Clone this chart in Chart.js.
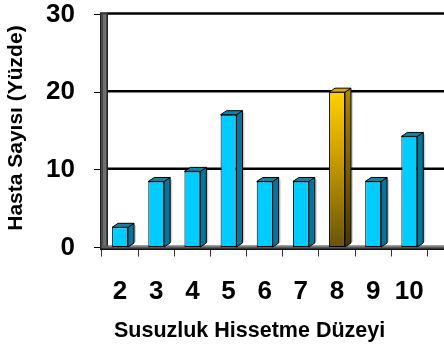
<!DOCTYPE html>
<html>
<head>
<meta charset="utf-8">
<title>Susuzluk Hissetme Düzeyi</title>
<script src="https://cdn.jsdelivr.net/npm/chart.js@4.4.0/dist/chart.umd.min.js"></script>
<style>
  html, body { margin: 0; padding: 0; background: #ffffff; }
  canvas { display: block; }
</style>
</head>
<body>
<canvas id="chart" width="444" height="347"></canvas>
<script>
// Thirst level categories and the share of patients (percent) in each
const categories = ['2', '3', '4', '5', '6', '7', '8', '9', '10'];
const patientPercent = [2.6, 8.5, 9.8, 17.1, 8.5, 8.5, 20.0, 8.5, 14.3];
const yTickValues = [0, 10, 20, 30];
const highlightCategory = '8';
const yAxisTitle = 'Hasta Sayısı (Yüzde)';
const xAxisTitle = 'Susuzluk Hissetme Düzeyi';

const TICK_FONT = "'Liberation Sans', Arial, sans-serif";
const TITLE_FONT = "'Liberation Sans', Arial, sans-serif";

const CYAN_FRONT = '#00ccff';
const CYAN_TOP = '#0a86ab';
const CYAN_SIDE = '#06759a';

// depth of the pseudo-3D extrusion
const BAR_DX = 6, BAR_DY = -4;
const WALL_DX = 6, WALL_DY = -1;

// fixed axis box sizes
const Y_AXIS_WIDTH = 102;
const X_AXIS_HEIGHT = 99.5;
const TOP_GAP = 14.5;

function goldGradient(chart, top, bottom, stops) {
  const g = chart.ctx.createLinearGradient(0, top, 0, bottom);
  stops.forEach(([p, c]) => g.addColorStop(p, c));
  return g;
}

function barFill(ctx) {
  const chart = ctx.chart;
  if (chart.data.labels[ctx.dataIndex] !== highlightCategory) return CYAN_FRONT;
  const area = chart.chartArea;
  if (!area) return '#d8a800';
  const y = chart.scales.y;
  return goldGradient(chart, y.getPixelForValue(ctx.raw), area.bottom,
    [[0, '#ffd000'], [0.4, '#cf9f00'], [1, '#66540a']]);
}

// back wall, left wall, floor and the extruded faces of every bar
const depthPlugin = {
  id: 'depth3d',
  beforeDatasetsDraw(chart) {
    const { ctx, chartArea: a, scales: { y } } = chart;
    const yTop = y.getPixelForValue(y.max);
    ctx.save();
    // gridlines on the back wall
    ctx.strokeStyle = '#000';
    ctx.lineWidth = 2.5;
    yTickValues.filter(v => v > 0).forEach(v => {
      const py = y.getPixelForValue(v) + WALL_DY;
      ctx.beginPath();
      ctx.moveTo(a.left + WALL_DX - 1, py);
      ctx.lineTo(chart.width, py);
      ctx.stroke();
    });
    // left wall
    ctx.fillStyle = '#474747';
    ctx.fillRect(a.left - 2, yTop - 2, WALL_DX + 2, a.bottom - yTop + 4);
    ctx.fillStyle = '#6f6f6f';
    ctx.fillRect(a.left + 1, yTop, 3, a.bottom - yTop);
    ctx.strokeStyle = '#222';
    ctx.lineWidth = 1;
    ctx.strokeRect(a.left - 1.5, yTop - 1.5, WALL_DX + 1, a.bottom - yTop + 3);
    // floor
    ctx.fillStyle = '#5a5a5a';
    ctx.fillRect(a.left, a.bottom - 2, chart.width - a.left, 4);
    ctx.fillStyle = '#9a9a9a';
    ctx.fillRect(a.left + WALL_DX, a.bottom - 2, chart.width - a.left, 1);
    ctx.fillStyle = '#111';
    ctx.fillRect(a.left - 2, a.bottom + 1, chart.width - a.left + 2, 1.5);
    ctx.restore();
  },
  afterDatasetsDraw(chart) {
    const { ctx } = chart;
    const meta = chart.getDatasetMeta(0);
    ctx.save();
    ctx.lineWidth = 1;
    ctx.strokeStyle = '#000';
    meta.data.forEach((bar, i) => {
      const { x, y, base, width } = bar.getProps(['x', 'y', 'base', 'width'], true);
      const l = x - width / 2, r = x + width / 2;
      const gold = chart.data.labels[i] === highlightCategory;
      // soft shadow to the right of each bar
      ctx.fillStyle = 'rgba(0,0,0,0.18)';
      ctx.fillRect(r + BAR_DX, y + BAR_DY + 2, 2, base - y - 3);
      // side face
      ctx.beginPath();
      ctx.moveTo(r, y);
      ctx.lineTo(r + BAR_DX, y + BAR_DY);
      ctx.lineTo(r + BAR_DX, base + BAR_DY);
      ctx.lineTo(r, base);
      ctx.closePath();
      ctx.fillStyle = gold
        ? goldGradient(chart, y, base, [[0, '#a88400'], [1, '#463800']])
        : CYAN_SIDE;
      ctx.fill();
      ctx.stroke();
      // top face
      ctx.beginPath();
      ctx.moveTo(l, y);
      ctx.lineTo(l + BAR_DX, y + BAR_DY);
      ctx.lineTo(r + BAR_DX, y + BAR_DY);
      ctx.lineTo(r, y);
      ctx.closePath();
      ctx.fillStyle = gold ? '#d9aa00' : CYAN_TOP;
      ctx.fill();
      ctx.stroke();
    });
    ctx.restore();
  }
};

new Chart(document.getElementById('chart'), {
  type: 'bar',
  data: {
    labels: categories,
    datasets: [{
      data: patientPercent,
      backgroundColor: barFill,
      borderColor: '#000',
      borderWidth: 1,
      borderSkipped: false,
      categoryPercentage: 1,
      barPercentage: 0.44
    }]
  },
  options: {
    responsive: false,
    animation: false,
    devicePixelRatio: 1,
    layout: { padding: { left: 0, right: 4, top: 0, bottom: 0 } },
    plugins: { legend: { display: false }, tooltip: { enabled: false } },
    scales: {
      y: {
        min: 0,
        max: 30,
        afterBuildTicks(scale) { scale.ticks = yTickValues.map(v => ({ value: v })); },
        afterFit(scale) {
          scale.width = Y_AXIS_WIDTH;
          scale.paddingTop = TOP_GAP;
          scale.paddingBottom = 0;
        },
        ticks: {
          color: '#000',
          padding: 19,
          font: { family: TICK_FONT, size: 26, weight: 'bold' }
        },
        grid: { drawOnChartArea: false, color: '#000', tickLength: 8, lineWidth: 1 },
        border: { display: false },
        title: {
          display: true,
          text: ' ' + yAxisTitle,
          color: '#000',
          padding: { top: 4, bottom: 4 },
          font: { family: TITLE_FONT, size: 21, weight: 'bold' }
        }
      },
      x: {
        offset: true,
        afterFit(scale) { scale.height = X_AXIS_HEIGHT; },
        ticks: {
          color: '#000',
          padding: 20,
          autoSkip: false,
          minRotation: 0,
          maxRotation: 0,
          font: { family: TICK_FONT, size: 26, weight: 'bold' }
        },
        grid: { offset: true, drawOnChartArea: false, color: '#333', tickLength: 9, lineWidth: 1 },
        border: { display: false },
        title: {
          display: true,
          text: '  ' + xAxisTitle,
          align: 'start',
          color: '#000',
          padding: { top: 4, bottom: 3 },
          font: { family: TITLE_FONT, size: 21.5, weight: 'bold' }
        }
      }
    }
  },
  plugins: [depthPlugin]
});
</script>
</body>
</html>
